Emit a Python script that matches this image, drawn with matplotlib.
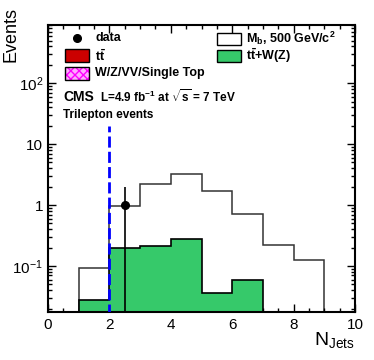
import numpy as np
import matplotlib.pyplot as plt
from matplotlib.patches import Rectangle
from matplotlib.lines import Line2D
from matplotlib.ticker import MultipleLocator, LogLocator, NullFormatter

plt.rcParams["font.family"] = ["Liberation Sans", "DejaVu Sans"]
plt.rcParams["mathtext.fontset"] = "custom"
plt.rcParams["mathtext.rm"] = "Liberation Sans"
plt.rcParams["mathtext.bf"] = "Liberation Sans:bold"
plt.rcParams["mathtext.it"] = "Liberation Sans:italic"

# histogram data (N jets)
sig_edges = [1, 2, 3, 4, 5, 6, 7, 8, 9]
sig_vals = [0.094, 0.97, 2.2, 3.2, 1.7, 0.72, 0.22, 0.126]
ttw_edges = [1, 2, 3, 4, 5, 6, 7]
ttw_vals = [0.028, 0.20, 0.21, 0.275, 0.036, 0.060]
data_x = [2.5]
data_y = [1.0]
data_err_lo = [1.0]
data_err_hi = [1.0]
cut_x = 2.0
cut_top = 20.0

green = "#36c96a"

fig = plt.figure(figsize=(3.74, 3.6), dpi=100)
ax = fig.add_axes([48 / 374, 1 - 312 / 360, 307 / 374, 287 / 360])
ax.set_yscale("log", nonpositive="clip")

ax.stairs(sig_vals, sig_edges, baseline=1e-3, fill=True, color="white", zorder=1)
ax.stairs(sig_vals, sig_edges, baseline=1e-3, color="#333333", lw=1.1, zorder=1.5)
ax.stairs(ttw_vals, ttw_edges, baseline=1e-3, fill=True, color=green, zorder=2)
ax.stairs(ttw_vals, ttw_edges, baseline=1e-3, color="black", lw=1.2, zorder=2.5)
ax.errorbar(data_x, data_y, yerr=[data_err_lo, data_err_hi], fmt="o", color="black",
            ms=5.5, lw=1.2, capsize=0, zorder=3)
ax.plot([cut_x, cut_x], [1e-3, cut_top], color="#0000ff", lw=2.0,
        ls=(0, (4, 1.5)), zorder=4)

ax.set_xlim(0, 10)
ax.set_ylim(0.0176, 900)
ax.xaxis.set_major_locator(MultipleLocator(2))
ax.xaxis.set_minor_locator(MultipleLocator(0.5))
ax.set_yticks([0.1, 1, 10, 100])
ax.set_yticklabels(["$10^{-1}$", "1", "10", "$10^{2}$"])
ax.yaxis.set_minor_locator(LogLocator(base=10, subs=np.arange(2, 10), numticks=20))
ax.yaxis.set_minor_formatter(NullFormatter())
ax.tick_params(which="both", direction="in", top=True, right=True, labelsize=11, width=1)
ax.tick_params(which="major", length=6)
ax.tick_params(which="minor", length=3)
ax.tick_params(axis="x", pad=4)
for s in ax.spines.values():
    s.set_linewidth(1.5)

fig.text(11 / 374, 1 - 35 / 360, "Events", rotation=90, fontsize=13, ha="center", va="center")
fig.text(355 / 374, 1 - 340 / 360, r"N$_{\rm Jets}$", fontsize=14, ha="right", va="center")


def fx(px):
    return px / 374


def fy(py):
    return 1 - py / 360


def box(x0, y0, x1, y1, **kw):
    fig.patches.append(Rectangle((fx(x0), fy(y1)), fx(x1) - fx(x0), fy(y0) - fy(y1),
                                 transform=fig.transFigure, figure=fig, **kw))


# legend
fig.lines.append(Line2D([fx(77)], [fy(38)], marker="o", ms=5.5, color="black",
                        transform=fig.transFigure, figure=fig))
fig.text(fx(95), fy(38), "data", fontsize=9, weight="bold", va="center")
box(65, 49, 89, 62, facecolor="#cc0000", edgecolor="black", lw=1)
fig.text(fx(95), fy(56), r"$\mathbf{t\bar{t}}$", fontsize=9, va="center")
box(65, 67, 89, 80, facecolor="#ffaaff", edgecolor="#ff00ff", hatch="xxxx", lw=0)
box(65, 67, 89, 80, facecolor="none", edgecolor="black", lw=1)
fig.text(fx(95), fy(73), "W/Z/VV/Single Top", fontsize=9, weight="bold", va="center")
box(217, 33, 241, 45, facecolor="white", edgecolor="black", lw=1)
fig.text(fx(246), fy(38), r"M$_{\mathbf{b}}$, 500 GeV/c$^{\mathbf{2}}$", fontsize=9,
         weight="bold", va="center")
box(217, 50, 241, 62, facecolor=green, edgecolor="black", lw=1)
fig.text(fx(246), fy(56), r"$\mathbf{t\bar{t}}$+W(Z)", fontsize=9, weight="bold", va="center")

fig.text(fx(63), fy(97), "CMS", fontsize=10, weight="bold", va="center")
fig.text(fx(100), fy(97), r"L=4.9 fb$^{\mathbf{-1}}$ at $\sqrt{\mathbf{s}}$ = 7 TeV",
         fontsize=8.5, weight="bold", va="center")
fig.text(fx(63), fy(115), "Trilepton events", fontsize=8.5, weight="bold", va="center")

fig.savefig("out.png", dpi=100)
